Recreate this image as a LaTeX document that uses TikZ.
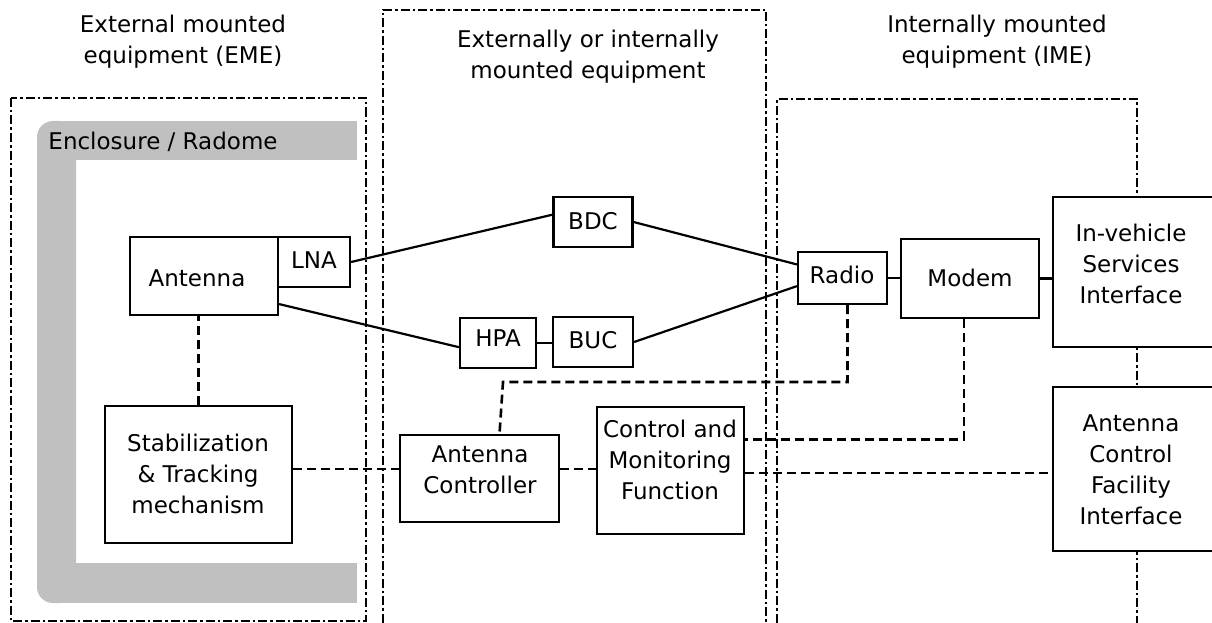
\documentclass[tikz,border=0pt]{standalone}
\usepackage{fontspec}
\setmainfont{DejaVu Sans}
\usetikzlibrary{calc}
\definecolor{encl}{HTML}{C0C0C0}
\begin{document}
\begin{tikzpicture}[x=1pt,y=-1pt,
  box/.style={draw, line width=2.2pt, fill=white, inner sep=0pt},
  txt/.style={font=\fontsize{23}{31}\selectfont, align=center, inner sep=0pt},
  link/.style={line width=2.2pt},
  ctrl/.style={line width=2.6pt, dash pattern=on 9pt off 5pt},
  frame/.style={line width=2.2pt, dash pattern=on 9pt off 3pt on 2.5pt off 3pt}]
\useasboundingbox (0,0) rectangle (1212,623);

% dash-dot frames
\draw[frame] (11,98) rectangle (366,621);
\draw[frame] (383,640) -- (383,10) -- (766,10) -- (766,640);
\draw[frame] (777,640) -- (777,99) -- (1137,99) -- (1137,640);

% enclosure / radome
\fill[encl, rounded corners=16pt] (37,121) rectangle (76,603);
\fill[encl] (60,121) rectangle (357,160);
\fill[encl] (60,563) rectangle (357,603);
\node[txt] (enc) at (163,142) {Enclosure / Radome};

% headers
\node[txt] (eme) at (183,42) {External mounted\\equipment (EME)};
\node[txt] (mid) at (588,57) {Externally or internally\\mounted equipment};
\node[txt] (ime) at (997,42) {Internally mounted\\equipment (IME)};

% boxes
\node[box, minimum width=148pt, minimum height=78pt] (antenna) at (204,276) {};
\node[box, minimum width=72pt, minimum height=50pt] (lna) at (314,262) {};
\node[box, minimum width=187pt, minimum height=137pt] (stab) at (198.5,474.5) {};
\node[box, minimum width=79pt, minimum height=50pt] (bdc) at (593,222) {};
\node[box, minimum width=76pt, minimum height=50pt] (hpa) at (498,343) {};
\node[box, minimum width=80pt, minimum height=50pt] (buc) at (593,342) {};
\node[box, minimum width=159pt, minimum height=87pt] (ac) at (479.5,478.5) {};
\node[box, minimum width=147pt, minimum height=127pt] (cmf) at (670.5,470.5) {};
\node[box, minimum width=89pt, minimum height=52pt] (radio) at (842.5,278) {};
\node[box, minimum width=138pt, minimum height=79pt] (modem) at (970,278.5) {};
\node[box, minimum width=162pt, minimum height=150pt] (ivsi) at (1134,272) {};
\node[box, minimum width=162pt, minimum height=164pt] (acfi) at (1134,469) {};

% box texts
\node[txt] (antenna-t) at (197,278) {Antenna};
\node[txt] (lna-t) at (314,260) {LNA};
\node[txt] (stab-t) at (198,474) {Stabilization\\\& Tracking\\mechanism};
\node[txt] (bdc-t) at (593,221) {BDC};
\node[txt] (hpa-t) at (498,338) {HPA};
\node[txt] (buc-t) at (593,340) {BUC};
\node[txt] (ac-t) at (480,470) {Antenna\\Controller};
\node[txt] (cmf-t) at (670,460) {Control and\\Monitoring\\Function};
\node[txt] (radio-t) at (842,275) {Radio};
\node[txt] (modem-t) at (970,278) {Modem};
\node[txt] (ivsi-t) at (1131,264) {In-vehicle\\Services\\Interface};
\node[txt] (acfi-t) at (1131,470) {Antenna\\Control\\Facility\\Interface};

% RF links
\draw[link] (lna.east) -- ($(bdc.north west)!0.36!(bdc.south west)$);
\draw[link] (bdc.east) -- ($(radio.north west)!0.25!(radio.south west)$);
\draw[link] ($(antenna.north east)!0.85!(antenna.south east)$) -- ($(hpa.north west)!0.58!(hpa.south west)$);
\draw[link] (hpa.east) -- (hpa.east -| buc.west);
\draw[link] (buc.east) -- ($(radio.north west)!0.65!(radio.south west)$);
\draw[link] (radio.east) -- (radio.east -| modem.west);
\draw[link] (modem.east) -- (modem.east -| ivsi.west);

% control links
\draw[ctrl] (stab.north) -- (stab.north |- antenna.south);
\coordinate (sy) at ($(stab.north east)!0.46!(stab.south east)$);
\draw[ctrl] (sy) -- (sy -| ac.west);
\draw[ctrl] (sy -| ac.east) -- (sy -| cmf.west);
\coordinate (rb) at ($(radio.south)+(5,0)$);
\coordinate (bend) at (503,382);
\draw[ctrl] (rb) |- (bend) -- ($(ac.north)+(20,0)$);
\coordinate (mb) at ($(modem.south)+(-6,0)$);
\draw[ctrl] (mb) |- ($(cmf.north east)!0.26!(cmf.south east)$);
\coordinate (cy) at ($(cmf.north east)!0.52!(cmf.south east)$);
\draw[ctrl] (cy) -- (cy -| acfi.west);
\end{tikzpicture}
\end{document}
